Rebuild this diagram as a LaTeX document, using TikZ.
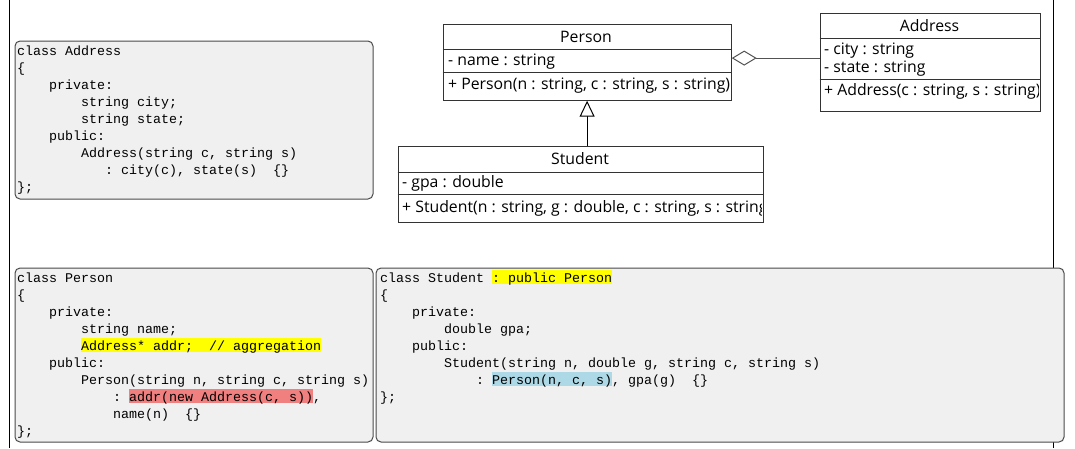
\documentclass[tikz,border=0pt]{standalone}
\usepackage{fontspec}
\setmainfont{Open Sans}
\newfontfamily\codefont{Liberation Mono}
\usetikzlibrary{arrows.meta}
\definecolor{codebg}{HTML}{F0F0F0}
\definecolor{codeborder}{HTML}{4A4A4A}
\definecolor{hlyellow}{HTML}{FFFF00}
\definecolor{hlred}{HTML}{F08080}
\definecolor{hlblue}{HTML}{ADD8E6}
\definecolor{umlline}{HTML}{333333}
\tikzset{
 codebox/.style={draw=codeborder, fill=codebg, rounded corners=5pt, line width=1pt, inner sep=0pt, anchor=north west},
 codetext/.style={anchor=base west, inner sep=0pt, font=\codefont\fontsize{13.33}{17}\selectfont\frenchspacing},
 umlbox/.style={draw=umlline, line width=1.2pt, fill=white, inner sep=0pt, anchor=north west},
 umlsep/.style={draw=umlline, line width=1.2pt},
 umltext/.style={anchor=base west, inner sep=0pt, font=\fontsize{15.8}{19}\selectfont},
 umltitle/.style={anchor=base, inner sep=0pt, font=\fontsize{15.8}{19}\selectfont},
 aggline/.style={draw=umlline!85, line width=1pt, -{Diamond[open, length=25pt, width=15pt, fill=white]}},
 inhline/.style={draw=black, line width=1pt, -{Triangle[open, length=16pt, width=15pt, fill=white]}},
 pageline/.style={draw=black, line width=1pt}
}
% #1 name, #2 x0, #3 line centre y, #4 column, #5 text
\newcommand\codeln[5]{\node[codetext] (#1) at ({#2+8*#4},{#3+5}) {#5};}
% highlight: x0, centre y, first col, last col (exclusive), colour
\newcommand\hlbar[5]{\fill[#5] ({#1+8*#3},{#2-7}) rectangle ({#1+8*#4},{#2+7});}
\begin{document}
\begin{tikzpicture}[x=1pt,y=-1pt]
\useasboundingbox (0,0) rectangle (1075,448);
\fill[white] (0,0) rectangle (1075,448);
\draw[pageline] (9.5,0) -- (9.5,448);
\draw[pageline] (1053.5,0) -- (1053.5,448);

% ---------- code: Address ----------
\node[codebox, minimum width=358pt, minimum height=158pt] (addrcode) at (14.5,40.5) {};
\codeln{a0}{17}{50}{0}{class Address}
\codeln{a1}{17}{67}{0}{\{}
\codeln{a2}{17}{84}{4}{private:}
\codeln{a3}{17}{101}{8}{string city;}
\codeln{a4}{17}{118}{8}{string state;}
\codeln{a5}{17}{135}{4}{public:}
\codeln{a6}{17}{152}{8}{Address(string c, string s)}
\codeln{a7}{17}{169}{11}{: city(c), state(s)~~\{\}}
\codeln{a8}{17}{186}{0}{\};}

% ---------- code: Person ----------
\node[codebox, minimum width=358pt, minimum height=174pt] (personcode) at (14.5,267.5) {};
\hlbar{17}{345}{8}{38}{hlyellow}
\hlbar{17}{396}{14}{37}{hlred}
\codeln{p0}{17}{277}{0}{class Person}
\codeln{p1}{17}{294}{0}{\{}
\codeln{p2}{17}{311}{4}{private:}
\codeln{p3}{17}{328}{8}{string name;}
\codeln{p4}{17}{345}{8}{Address* addr;~~// aggregation}
\codeln{p5}{17}{362}{4}{public:}
\codeln{p6}{17}{379}{8}{Person(string n, string c, string s)}
\codeln{p7}{17}{396}{12}{: addr(new Address(c, s)),}
\codeln{p8}{17}{413}{12}{name(n)~~\{\}}
\codeln{p9}{17}{430}{0}{\};}

% ---------- code: Student ----------
\node[codebox, minimum width=688pt, minimum height=174pt] (studentcode) at (375.5,267.5) {};
\hlbar{380}{277}{14}{29}{hlyellow}
\hlbar{380}{379}{14}{29}{hlblue}
\codeln{s0}{380}{277}{0}{class Student : public Person}
\codeln{s1}{380}{294}{0}{\{}
\codeln{s2}{380}{311}{4}{private:}
\codeln{s3}{380}{328}{8}{double gpa;}
\codeln{s4}{380}{345}{4}{public:}
\codeln{s5}{380}{362}{8}{Student(string n, double g, string c, string s)}
\codeln{s6}{380}{379}{12}{: Person(n, c, s), gpa(g)~~\{\}}
\codeln{s7}{380}{396}{0}{\};}

% ---------- UML: Person ----------
\node[umlbox, minimum width=288pt, minimum height=76pt] (person) at (442.5,23.5) {};
\draw[umlsep] (442.5,49.5) -- (730.5,49.5) (442.5,72.5) -- (730.5,72.5);
\node[umltitle] (persontitle) at (586,42.5) {Person};
\begin{scope}
\clip (442.5,23.5) rectangle (729.9,99.5);
\node[umltext] (personattr) at (448,65) {- name : string};
\node[umltext] (personop) at (448,89) {+ Person(n : string, c : string, s : string)};
\end{scope}

% ---------- UML: Address ----------
\node[umlbox, minimum width=220pt, minimum height=98pt] (address) at (819.5,12.5) {};
\draw[umlsep] (819.5,38.5) -- (1039.5,38.5) (819.5,79.5) -- (1039.5,79.5);
\node[umltitle] (addresstitle) at (929.5,31.5) {Address};
\begin{scope}
\clip (819.5,12.5) rectangle (1038.9,110.5);
\node[umltext] (addressattr1) at (824,54) {- city : string};
\node[umltext] (addressattr2) at (824,72.5) {- state : string};
\node[umltext] (addressop) at (824,95.5) {+ Address(c : string, s : string)};
\end{scope}

% ---------- UML: Student ----------
\node[umlbox, minimum width=365pt, minimum height=76pt] (student) at (397.5,145.5) {};
\draw[umlsep] (397.5,172.5) -- (762.5,172.5) (397.5,194.5) -- (762.5,194.5);
\node[umltitle] (studenttitle) at (580,164.5) {Student};
\begin{scope}
\clip (397.5,145.5) rectangle (761.9,221.5);
\node[umltext] (studentattr) at (402,187.5) {- gpa : double};
\node[umltext] (studentop) at (402,212.5) {+ Student(n : string, g : double, c : string, s : string)};
\end{scope}

% ---------- connectors ----------
\draw[aggline] ([yshift=4pt]address.west) -- ([yshift=4pt]person.east);
\draw[inhline] (student.north -| person.south) -- (person.south);
\end{tikzpicture}
\end{document}
